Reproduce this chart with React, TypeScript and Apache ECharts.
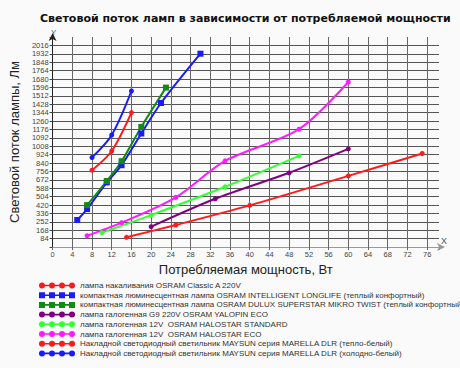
import React, { useEffect, useRef } from "react";
import * as echarts from "echarts";

const xTicks = [0, 4, 8, 12, 16, 20, 24, 28, 32, 36, 40, 44, 48, 52, 56, 60, 64, 68, 72, 76];
const yTicks = [84, 168, 252, 336, 420, 504, 588, 672, 756, 840, 924, 1008, 1092, 1176, 1260, 1344, 1428, 1512, 1596, 1680, 1764, 1848, 1932, 2016];

const incandescent = [[15, 97], [25, 220], [40, 416], [60, 711], [75, 935]];
const cflLonglife = [[5, 270], [7, 379], [11, 646], [14, 818], [18, 1135], [22, 1440], [30, 1933]];
const cflDulux = [[7, 419], [11, 660], [14, 858], [18, 1201], [23, 1594]];
const halogenG9 = [[20, 203], [33, 482], [48, 742], [60, 981]];
const halostarStd = [[10, 143], [20, 319], [35, 602], [50, 911]];
const halostarEco = [[7, 113], [14, 243], [25, 496], [35, 861], [50, 1178], [60, 1650]];
const ledWarm = [[8, 768], [12, 960], [16, 1344]];
const ledCold = [[8, 895], [12, 1120], [16, 1560]];

const seriesNames = [
  "лампа накаливания OSRAM Classic A 220V",
  "компактная люминесцентная лампа OSRAM INTELLIGENT LONGLIFE (теплый конфортный)",
  "компактная люминесцентная лампа OSRAM DULUX SUPERSTAR MIKRO TWIST (теплый конфортный)",
  "лампа галогенная G9 220V OSRAM YALOPIN ECO",
  "лампа галогенная 12V  OSRAM HALOSTAR STANDARD",
  "лампа галогенная 12V  OSRAM HALOSTAR ECO",
  "Накладной светодиодный светильник MAYSUN серия MARELLA DLR (тепло-белый)",
  "Накладной светодиодный светильник MAYSUN серия MARELLA DLR (холодно-белый)",
];
const seriesData = [incandescent, cflLonglife, cflDulux, halogenG9, halostarStd, halostarEco, ledWarm, ledCold];
const seriesColors = ["#ff1a1a", "#1a1aff", "#138a13", "#800080", "#33ff33", "#ff1aff", "#ff1a1a", "#1a1aff"];
const seriesSymbols = ["circle", "rect", "rect", "circle", "circle", "circle", "circle", "circle"];

const circleIcon =
  "path://M0,2.2L36,2.2L36,3.8L0,3.8Z" +
  "M0,3a3,3 0 1,1 6,0a3,3 0 1,1 -6,0Z" +
  "M10,3a3,3 0 1,1 6,0a3,3 0 1,1 -6,0Z" +
  "M20,3a3,3 0 1,1 6,0a3,3 0 1,1 -6,0Z" +
  "M30,3a3,3 0 1,1 6,0a3,3 0 1,1 -6,0Z";
const squareIcon =
  "path://M0,2.2L36,2.2L36,3.8L0,3.8Z" +
  "M0,0L6,0L6,6L0,6Z" +
  "M10,0L16,0L16,6L10,6Z" +
  "M20,0L26,0L26,6L20,6Z" +
  "M30,0L36,0L36,6L30,6Z";

export default function App() {
  const ref = useRef<HTMLDivElement>(null);
  useEffect(() => {
    if (!ref.current) return;
    const chart = echarts.init(ref.current, undefined, { renderer: "svg" });
    const font = "'Liberation Sans', Arial, sans-serif";
    const tickFont = "'Liberation Sans', Arial, sans-serif";
    chart.setOption({
      animation: false,
      backgroundColor: "#fafafa",
      title: {
        text: "Световой поток ламп в зависимости от потребляемой мощности",
        left: 35,
        top: 8,
        textStyle: { fontFamily: "'DejaVu Sans', sans-serif", fontWeight: "bold", fontSize: 11, color: "#111" },
      },
      grid: { left: 47, top: 37, width: 392, height: 210 },
      legend: {
        orient: "vertical",
        left: 39,
        top: 281,
        padding: 0,
        itemWidth: 36,
        itemHeight: 6,
        itemGap: 0.7,
        selectedMode: false,
        textStyle: { fontFamily: font, fontSize: 8, color: "#333", lineHeight: 9 },
        data: seriesNames.map((n, i) => ({ name: n, icon: seriesSymbols[i] === "rect" ? squareIcon : circleIcon })),
      },
      xAxis: {
        type: "value",
        min: 0,
        max: 78.4,
        interval: 4,
        name: "Потребляемая мощность, Вт",
        nameLocation: "middle",
        nameGap: 14,
        nameTextStyle: { fontFamily: font, fontSize: 13, color: "#222" },
        axisLine: {
          show: true,
          onZero: false,
          symbol: ["none", "arrow"],
          symbolSize: [6, 8],
          symbolOffset: [0, 6],
          lineStyle: { color: "#999", width: 1 },
        },
        axisTick: { show: true, length: 3, lineStyle: { color: "#666" } },
        axisLabel: {
          margin: 3,
          fontFamily: tickFont,
          fontSize: 7.5,
          color: "#444",
          formatter: (v: number) => (xTicks.includes(v) ? String(v) : ""),
        },
        splitLine: { show: true, showMinLine: false, showMaxLine: false, lineStyle: { color: "#666", width: 1 } },
      },
      yAxis: {
        type: "value",
        min: 0,
        max: 2100,
        interval: 84,
        name: "Световой поток лампы, Лм",
        nameLocation: "middle",
        nameGap: 30,
        nameTextStyle: { fontFamily: font, fontSize: 13, color: "#222" },
        axisLine: {
          show: true,
          onZero: false,
          symbol: ["none", "arrow"],
          symbolSize: [6, 8],
          symbolOffset: [0, 4],
          lineStyle: { color: "#222", width: 1 },
        },
        axisTick: { show: true, length: 3, lineStyle: { color: "#444" } },
        axisLabel: {
          margin: 4,
          fontFamily: tickFont,
          fontSize: 7.5,
          color: "#444",
          formatter: (v: number) => (yTicks.includes(v) ? String(v) : ""),
        },
        splitLine: { show: true, showMinLine: false, showMaxLine: false, lineStyle: { color: "#555", width: 1 } },
      },
      graphic: [
        { type: "text", left: 51, top: 28, style: { text: "Y", fontFamily: font, fontSize: 8, fill: "#555" } },
        { type: "text", left: 441, top: 236, style: { text: "X", fontFamily: font, fontSize: 9, fill: "#555" } },
      ],
      series: seriesNames.map((n, i) => ({
        name: n,
        type: "line",
        data: seriesData[i],
        smooth: 0.3,
        symbol: seriesSymbols[i],
        symbolSize: seriesSymbols[i] === "rect" ? 6 : 5,
        showSymbol: true,
        itemStyle: { color: seriesColors[i] },
        lineStyle: { color: seriesColors[i], width: 2 },
        z: 3,
      })),
    });
    return () => chart.dispose();
  }, []);
  return <div ref={ref} style={{ position: "fixed", left: 0, top: 0, width: 460, height: 368 }} />;
}
